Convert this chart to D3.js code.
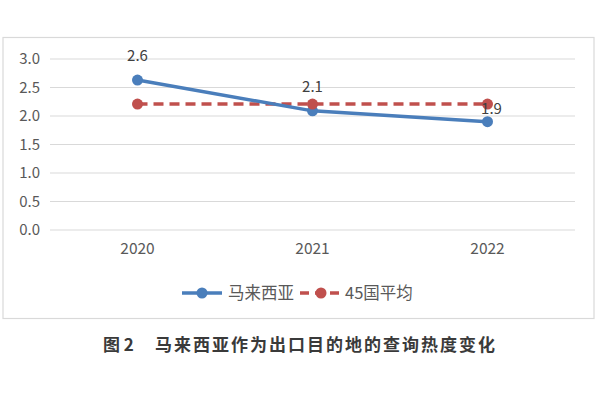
<!DOCTYPE html>
<html><head><meta charset="utf-8">
<script src="https://cdn.jsdelivr.net/npm/d3@7"></script>
<style>body{margin:0;background:#fff;}svg{display:block;}</style>
</head><body>
<svg id="c" width="600" height="400"></svg>
<script>
const years = ["2020", "2021", "2022"];
const malaysia = [2.63, 2.09, 1.9];
const avg45 = [2.21, 2.21, 2.21];
const malaysiaLabels = ["2.6", "2.1", "1.9"];
const yTicks = [0, 0.5, 1.0, 1.5, 2.0, 2.5, 3.0];
const seriesNames = ["马来西亚", "45国平均"];
const figLabel = "图 2";
const caption = "马来西亚作为出口目的地的查询热度变化";

const svg = d3.select("#c");
const font = "'Noto Sans CJK SC', 'Noto Sans', sans-serif";

svg.append("rect").attr("x", 3).attr("y", 37.5).attr("width", 591).attr("height", 281)
  .attr("fill", "#fff").attr("stroke", "#d9d9d9").attr("stroke-width", 1.2);

const x = d3.scaleBand().domain(years).range([50, 575]);
const y = d3.scaleLinear().domain([0, 3]).range([230, 59]);

const grid = svg.append("g");
grid.selectAll("line").data(yTicks).join("line")
  .attr("x1", 50).attr("x2", 575)
  .attr("y1", d => y(d)).attr("y2", d => y(d))
  .attr("stroke", "#d9d9d9").attr("stroke-width", 1);

const yAxis = svg.append("g").attr("transform", "translate(40,0)")
  .call(d3.axisLeft(y).tickValues(yTicks).tickFormat(d3.format(".1f")).tickSize(0).tickPadding(0));
yAxis.select(".domain").remove();
yAxis.selectAll("text").attr("font-family", font).attr("font-size", 15).attr("fill", "#595959");

const xAxis = svg.append("g").attr("transform", "translate(0,243)")
  .call(d3.axisBottom(x).tickSize(0).tickPadding(0));
xAxis.select(".domain").remove();
xAxis.selectAll("text").attr("font-family", font).attr("font-size", 15.5).attr("fill", "#595959").attr("dy", "0.71em");

const cx = d => x(d) + x.bandwidth() / 2;
const line = d3.line().x((d, i) => cx(years[i])).y(d => y(d));

const blue = "#4a7ebb", red = "#c0504d";

svg.append("path").datum(avg45).attr("d", line).attr("fill", "none")
  .attr("stroke", red).attr("stroke-width", 3.5).attr("stroke-dasharray", "10,6");
svg.append("path").datum(malaysia).attr("d", line).attr("fill", "none")
  .attr("stroke", blue).attr("stroke-width", 3.5);

svg.append("g").selectAll("circle").data(malaysia).join("circle")
  .attr("cx", (d, i) => cx(years[i])).attr("cy", d => y(d)).attr("r", 5.5).attr("fill", blue);
svg.append("g").selectAll("circle").data(avg45).join("circle")
  .attr("cx", (d, i) => cx(years[i])).attr("cy", d => y(d)).attr("r", 5.5).attr("fill", red);

const labelDy = [-24, -24, -13];
const labelDx = [0, 0, 4];
svg.append("g").selectAll("text").data(malaysia).join("text")
  .attr("x", (d, i) => cx(years[i]) + labelDx[i])
  .attr("y", (d, i) => y(d) + labelDy[i])
  .attr("dy", "0.35em").attr("text-anchor", "middle")
  .attr("font-family", font).attr("font-size", 15).attr("fill", "#404040")
  .text((d, i) => malaysiaLabels[i]);

// legend
const lg = svg.append("g").attr("transform", "translate(0,293)");
lg.append("line").attr("x1", 182).attr("x2", 222).attr("stroke", blue).attr("stroke-width", 3.5);
lg.append("circle").attr("cx", 202).attr("r", 5.5).attr("fill", blue);
lg.append("text").attr("x", 228).attr("dy", "0.35em").attr("font-family", font)
  .attr("font-size", 16.5).attr("fill", "#595959").text(seriesNames[0]);
lg.append("line").attr("x1", 300).attr("x2", 342).attr("stroke", red).attr("stroke-width", 3.5)
  .attr("stroke-dasharray", "9,6");
lg.append("circle").attr("cx", 321).attr("r", 5.5).attr("fill", red);
lg.append("text").attr("x", 345).attr("dy", "0.35em").attr("font-family", font)
  .attr("font-size", 16.5).attr("fill", "#595959").text(seriesNames[1]);

svg.append("text").attr("x", 103).attr("y", 345).attr("dy", "0.35em")
  .attr("font-family", font).attr("font-size", 17).attr("font-weight", "bold")
  .attr("fill", "#3a3a3a").text(figLabel);
svg.append("text").attr("x", 155).attr("y", 345).attr("dy", "0.35em")
  .attr("textLength", 340).attr("lengthAdjust", "spacing")
  .attr("font-family", font).attr("font-size", 17).attr("font-weight", "bold")
  .attr("fill", "#3a3a3a").text(caption);
</script>
</body></html>
